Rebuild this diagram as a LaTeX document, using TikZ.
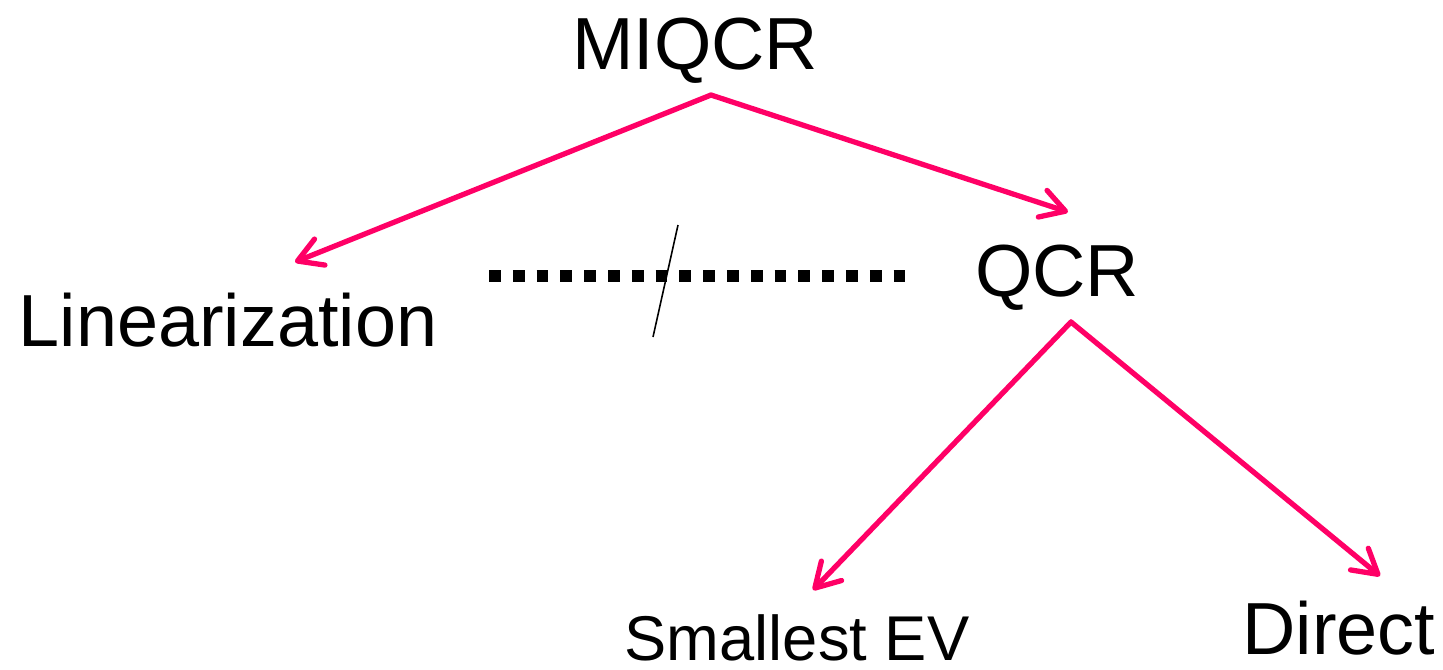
\documentclass[tikz,border=0pt]{standalone}
\usepackage{fontspec}
\setmainfont{Liberation Sans}
\usetikzlibrary{arrows.meta}
\definecolor{hotpink}{HTML}{FF0066}
\tikzset{
	link/.style={draw=hotpink,line width=1.5pt,line cap=round,
		-{Straight Barb[length=2.4mm,width=2.8mm,round]}},
	word/.style={anchor=base,inner sep=0pt,font=\fontsize{21}{25}\selectfont},
}
\begin{document}
\begin{tikzpicture}[x=1cm,y=-1cm]
		\useasboundingbox (0,0) rectangle (14.43,6.69);
		
		\node[word] (miqcr) at (6.95,.69) {MIQCR};
		\node[word] (lin) at (2.28,3.46) {Linearization};
		\node[word] (qcr) at (10.57,2.96) {QCR};
		\node[word,font=\fontsize{18}{22}\selectfont] (sev) at (7.97,6.60) {Smallest EV};
		\node[word] (direct) at (13.39,6.54) {Direct};
		
		% feet of the parents, heads near the children
		\coordinate (miqcr-foot) at (7.11,.95);
		\coordinate (lin-head) at (2.95,2.62);
		\coordinate (qcr-head) at (10.68,2.12);
		\coordinate (qcr-foot) at (10.71,3.22);
		\coordinate (sev-head) at (8.13,5.90);
		\coordinate (direct-head) at (13.80,5.76);
		
		\draw[link] (miqcr-foot) -- (lin-head);
		\draw[link] (miqcr-foot) -- (qcr-head);
		\draw[link] (qcr-foot) -- (sev-head);
		\draw[link] (qcr-foot) -- (direct-head);
		
		% crossed-out relation between the two branches
		\coordinate (dots-l) at (4.89,2.76);
		\coordinate (dots-r) at (9.07,2.76);
		\draw[line width=.117cm,dash pattern=on .118cm off .12cm] (dots-l) -- (dots-r);
		\coordinate (cut-t) at (6.78,2.25);
		\coordinate (cut-b) at (6.53,3.37);
		\draw[line width=.45pt] (cut-t) -- (cut-b);
\end{tikzpicture}
\end{document}
